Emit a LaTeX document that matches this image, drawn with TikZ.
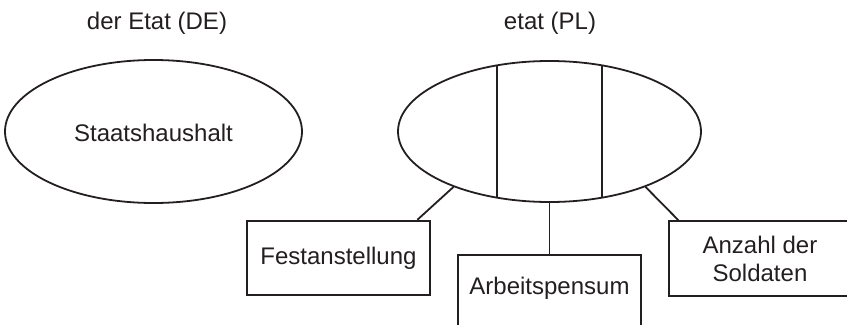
\documentclass[tikz,border=0pt]{standalone}
\usepackage{fontspec}
\setmainfont{Liberation Sans}
\usetikzlibrary{shapes.geometric,calc}
\definecolor{ink}{RGB}{35,31,32}
\begin{document}
\begin{tikzpicture}[x=0.75pt,y=-0.75pt,
  line width=1.35pt, draw=ink, text=ink,
  lbl/.style={font=\fontsize{18}{21}\selectfont, inner sep=0pt, align=center},
  oval/.style={draw, ellipse, inner sep=0pt, font=\fontsize{18}{21}\selectfont},
  box/.style={draw, rectangle, inner sep=0pt, minimum width=137pt, minimum height=56pt, font=\fontsize{18}{21}\selectfont, align=center}]
\useasboundingbox (0,0) rectangle (847,325);
\clip (0,0) rectangle (847,325);
% titles
\node[lbl] (tde) at (157,23) {der Etat (DE)};
\node[lbl] (tpl) at (550,23) {etat (PL)};
% ellipses
\node[oval, minimum width=222.75pt, minimum height=107.25pt] (de) at (153.5,131.5) {};
\node[lbl] (detext) at (153.5,133) {Staatshaushalt};
\node[oval, minimum width=227.25pt, minimum height=105.75pt] (pl) at (549.5,131.5) {};
\begin{scope}
  \clip (549.5,131.5) ellipse [x radius=151.5, y radius=70.5];
  \draw (497,40) -- (497,220);
  \draw (602,40) -- (602,220);
\end{scope}
% boxes
\node[box] (fest) at (338.5,258) {Festanstellung};
\node[box, minimum height=75pt] (arb) at (549.5,305) {};
\node[lbl] (arbtext) at (549.5,288) {Arbeitspensum};
\node[box] (anz) at (760,258.5) {Anzahl der\\Soldaten};
% connectors
\draw (pl.-150.4) -- ([xshift=-10]fest.north east);
\draw (pl.south) -- (arb.north);
\draw (pl.-30.6) -- ([xshift=8]anz.north west);
\end{tikzpicture}
\end{document}
